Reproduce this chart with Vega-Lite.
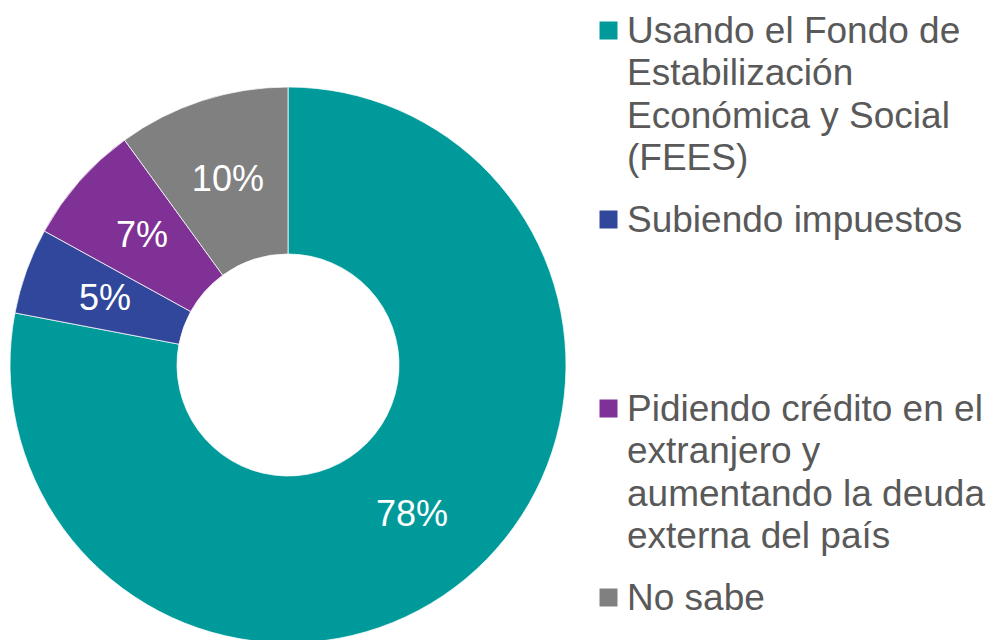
{
  "$schema": "https://vega.github.io/schema/vega-lite/v6.json",
  "width": 576,
  "height": 730,
  "padding": 0,
  "background": "white",
  "config": {
    "style": {
      "guide-label": {"lineHeight": 42.5, "dy": -17}
    }
  },
  "data": {
    "values": [
      {"respuesta": "Usando el Fondo de Estabilización Económica y Social (FEES)", "pct": 0.78, "orden": 1},
      {"respuesta": "Subiendo impuestos", "pct": 0.05, "orden": 2},
      {"respuesta": "Pidiendo crédito en el extranjero y aumentando la deuda externa del país", "pct": 0.07, "orden": 3},
      {"respuesta": "No sabe", "pct": 0.10, "orden": 4}
    ]
  },
  "encoding": {
    "theta": {"field": "pct", "type": "quantitative", "stack": true},
    "order": {"field": "orden", "type": "ordinal"}
  },
  "layer": [
    {
      "mark": {"type": "arc", "outerRadius": 278, "innerRadius": 111, "stroke": "white", "strokeWidth": 0.75},
      "encoding": {
        "color": {
          "field": "respuesta",
          "type": "nominal",
          "sort": null,
          "scale": {
            "domain": [
              "Usando el Fondo de Estabilización Económica y Social (FEES)",
              "Subiendo impuestos",
              "Pidiendo crédito en el extranjero y aumentando la deuda externa del país",
              "No sabe"
            ],
            "range": ["#009a9a", "#30479b", "#7f3196", "#808080"]
          },
          "legend": {
            "title": null,
            "orient": "right",
            "offset": 2,
            "padding": 12,
            "symbolType": "square",
            "symbolSize": 324,
            "symbolStrokeWidth": 0,
            "symbolOpacity": 1,
            "labelFont": "Liberation Sans",
            "labelFontSize": 37,
            "labelColor": "#595959",
            "labelOffset": 0,
            "labelLimit": 500,
            "labelBaseline": "top",
            "gridAlign": "all",
            "rowPadding": 24,
            "labelExpr": "datum.label == 'Subiendo impuestos' ? 'Subiendo impuestos' : datum.label == 'No sabe' ? 'No sabe' : indexof(datum.label, 'FEES') >= 0 ? ['Usando el Fondo de', 'Estabilización', 'Económica y Social', '(FEES)'] : ['Pidiendo crédito en el', 'extranjero y', 'aumentando la deuda', 'externa del país']"
          }
        }
      }
    },
    {
      "mark": {"type": "text", "radius": 194.5, "font": "Liberation Sans", "fontSize": 36, "color": "white", "align": "center", "baseline": "middle"},
      "encoding": {
        "text": {"field": "pct", "type": "quantitative", "format": ".0%"},
        "detail": {"field": "respuesta", "type": "nominal"}
      }
    }
  ]
}
